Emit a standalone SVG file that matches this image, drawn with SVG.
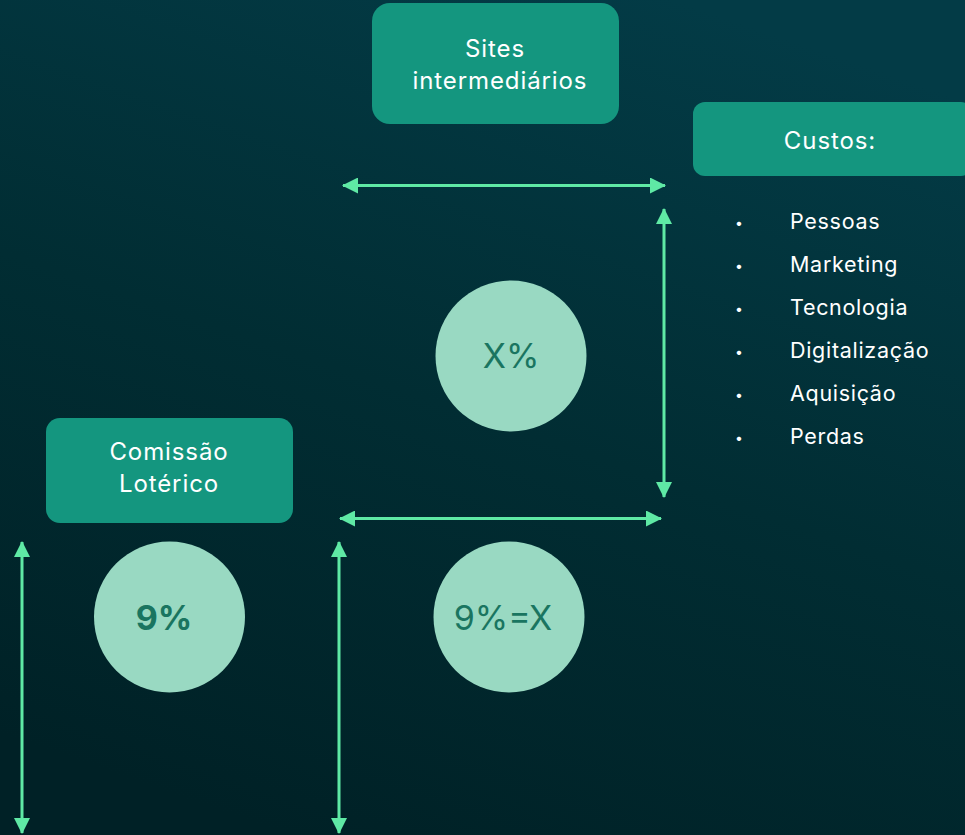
<svg xmlns="http://www.w3.org/2000/svg" width="965" height="835" viewBox="0 0 965 835">
  <defs>
    <linearGradient id="bg" x1="0.7" y1="0" x2="0.3" y2="1">
      <stop offset="0" stop-color="#033b46"/>
      <stop offset="0.5" stop-color="#012d33"/>
      <stop offset="1" stop-color="#002126"/>
    </linearGradient>
    <marker id="ah" viewBox="0 0 16 16" refX="15" refY="8" markerWidth="16" markerHeight="16" markerUnits="userSpaceOnUse" orient="auto-start-reverse">
      <path d="M0,0 L16,8 L0,16 Z" fill="#5fe9a5"/>
    </marker>
    <style>
      .box { fill: #14967f; }
      .circ { fill: #99d9c2; }
      .bt { font-family: Inter, "Liberation Sans", sans-serif; font-size: 24px; letter-spacing: 0.9px; fill: #ffffff; text-anchor: middle; }
      .li { font-family: Inter, "Liberation Sans", sans-serif; font-size: 21.5px; letter-spacing: 0.7px; fill: #ffffff; }
      .bu { font-family: Inter, "Liberation Sans", sans-serif; font-size: 14px; fill: #ffffff; text-anchor: middle; }
      .ct { font-family: Inter, "Liberation Sans", sans-serif; font-size: 34px; fill: #1a7560; text-anchor: middle; }
      .arr { stroke: #5fe9a5; stroke-width: 3; fill: none; marker-start: url(#ah); marker-end: url(#ah); }
    </style>
  </defs>
  <rect width="965" height="835" fill="url(#bg)"/>

  <g id="sites">
    <rect class="box" x="372" y="3" width="247" height="121" rx="18"/>
    <text class="bt" x="495" y="57">Sites</text>
    <text class="bt" x="500" y="89">intermediários</text>
  </g>

  <g id="custos">
    <rect class="box" x="693" y="102" width="280" height="74" rx="12"/>
    <text class="bt" x="830" y="149">Custos:</text>
  </g>

  <g id="custos-list">
    <text class="bu" x="739" y="228">•</text><text class="li" x="790" y="229">Pessoas</text>
    <text class="bu" x="739" y="271">•</text><text class="li" x="790" y="272">Marketing</text>
    <text class="bu" x="739" y="314">•</text><text class="li" x="790" y="315">Tecnologia</text>
    <text class="bu" x="739" y="357">•</text><text class="li" x="790" y="358">Digitalização</text>
    <text class="bu" x="739" y="400">•</text><text class="li" x="790" y="401">Aquisição</text>
    <text class="bu" x="739" y="443">•</text><text class="li" x="790" y="444">Perdas</text>
  </g>

  <g id="comissao">
    <rect class="box" x="46" y="418" width="247" height="105" rx="14"/>
    <text class="bt" x="169" y="460">Comissão</text>
    <text class="bt" x="169" y="492">Lotérico</text>
  </g>

  <g id="circle-x">
    <circle class="circ" cx="511" cy="356" r="75.5"/>
    <text class="ct" x="511" y="368">X%</text>
  </g>

  <g id="circle-9">
    <circle class="circ" cx="169.5" cy="617" r="75.5"/>
    <text class="ct" x="164" y="630" font-weight="700">9%</text>
  </g>

  <g id="circle-9x">
    <circle class="circ" cx="509" cy="617" r="75.5"/>
    <text class="ct" x="503" y="630">9%=X</text>
  </g>

  <g id="connectors">
    <line class="arr" x1="343" y1="185.5" x2="665" y2="185.5"/>
    <line class="arr" x1="664" y1="209" x2="664" y2="497"/>
    <line class="arr" x1="340" y1="518.5" x2="661" y2="518.5"/>
    <line class="arr" x1="22" y1="542" x2="22" y2="833"/>
    <line class="arr" x1="339" y1="542" x2="339" y2="833"/>
  </g>
</svg>
